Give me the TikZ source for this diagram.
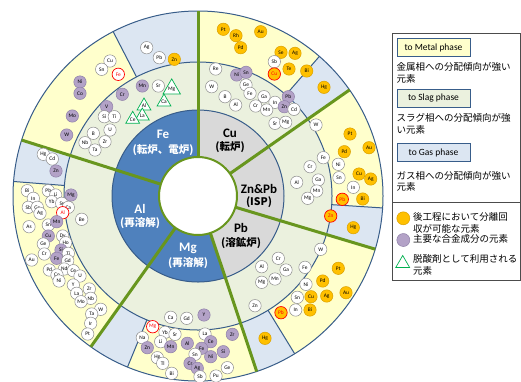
\documentclass[tikz,border=0pt]{standalone}
\usepackage{fontspec}
\setmainfont{Carlito}
\newfontfamily\jp{Noto Sans CJK JP}
\usetikzlibrary{shapes.geometric,calc}
\definecolor{blu}{HTML}{4F81BD}
\definecolor{gry}{HTML}{D9D9D9}
\definecolor{slag}{HTML}{EBF1DE}
\definecolor{metal}{HTML}{FFFFCC}
\definecolor{gas}{HTML}{DCE6F2}
\definecolor{ring}{HTML}{385D8A}
\definecolor{sep}{RGB}{104,150,30}
\definecolor{orng}{HTML}{FFC000}
\definecolor{orngd}{HTML}{D9A000}
\definecolor{purp}{HTML}{B3A2C7}
\definecolor{purpd}{HTML}{8F80A8}
\definecolor{triG}{HTML}{00B050}
\begin{document}
\begin{tikzpicture}[x=1pt,y=-1pt,
  el/.style={circle,draw=black!45,fill=white,line width=0.5pt,minimum size=12.4pt,inner sep=0pt,font=\fontsize{5.4}{5.4}\selectfont},
  pu/.style={el,fill=purp,draw=purpd},
  og/.style={el,fill=orng,draw=orngd},
  rw/.style={el,draw=red,text=red,line width=0.7pt},
  ro/.style={el,fill=orng,draw=red,text=red,line width=0.7pt},
  tri/.style={regular polygon,regular polygon sides=3,draw=triG,fill=white,minimum size=16pt,inner sep=0pt,line width=0.7pt,font=\fontsize{5.4}{5.4}\selectfont},
  rl/.style={font=\bfseries\fontsize{13}{13}\selectfont,inner sep=0pt},
  rj/.style={font=\jp\bfseries\fontsize{10.5}{11}\selectfont,inner sep=0pt},
  lgbox/.style={draw=ring,line width=0.8pt,minimum width=73pt,minimum height=18.5pt,inner sep=0pt,font=\fontsize{9.5}{10}\selectfont},
  lgtxt/.style={anchor=north west,align=left,inner sep=0pt,font=\jp\fontsize{9.5}{11.5}\selectfont}]
\useasboundingbox (0,0) rectangle (521,381);
\fill[white] (0,0) rectangle (521,381);
\coordinate (C) at (198,196);
% outer ring (metal) and gas wedges
\fill[metal] (C) circle (185);
\foreach \a/\b in {242.7/270,311/325,3.7/16.7,58.5/71.5,112.4/125.4,184.5/197.6}
  \fill[gas] (C) -- ($(C)+(\a:185)$) arc[start angle=\a,end angle=\b,radius=185] -- cycle;
% slag ring
\fill[slag] (C) circle (134);
% process ring
\fill[gry] (C) circle (86);
\fill[blu] (C) -- ($(C)+(71.5:86)$) arc[start angle=71.5,end angle=270,radius=86] -- cycle;
% ring outlines
\draw[ring,line width=1pt] (C) circle (86) (C) circle (134) (C) circle (185);
\foreach \a in {242.7,311,3.7,58.5,112.4,184.5}
  \draw[ring,line width=1pt] ($(C)+(\a:134)$) -- ($(C)+(\a:185)$);
% green separators
\foreach \a in {-90,-35,16.7,71.5,125.4,197.6}
  \draw[sep,line width=3pt] ($(C)+(\a:39)$) -- ($(C)+(\a:185)$);
\draw[sep,line width=2pt,fill=white] (C) circle (39);
% process labels
\node[rl,text=white] (lfe) at (163,134) {Fe};
\node[rj,text=white] (lfe2) at (163,150) {(転炉、電炉)};
\node[rl] (lcu) at (230,133) {Cu};
\node[rj] (lcu2) at (230,147) {(転炉)};
\node[rl] (lzn) at (259,189) {Zn\&Pb};
\node[rj] (lzn2) at (259,202) {(ISP)};
\node[rl] (lpb) at (241,228) {Pb};
\node[rj] (lpb2) at (241,243) {(溶鉱炉)};
\node[rl,text=white] (lal) at (140,209) {Al};
\node[rj,text=white] (lal2) at (140,223) {(再溶解)};
\node[rl,text=white] (lmg) at (188,248) {Mg};
\node[rj,text=white] (lmg2) at (188,263) {(再溶解)};
% Fe sector
\foreach \s/\x/\y/\t [count=\i] in {el/146.7/47.7/Ag,el/159.3/57.7/Pb,og/174.3/59.3/Zn,
  el/110/61/Cu,el/101.7/69.3/Sn,rw/118.3/74.3/Fe,pu/80/82/Ni,pu/80/93.3/Co,pu/72.3/116/Mo,pu/66.7/135/W,
  pu/142.3/86/Mn,el/158.3/86/Sr,tri/171.7/89/Mg,pu/122.3/94.3/Cr,tri/164/102/Ca,tri/144/106/Al,
  pu/106.7/106.7/V,el/104.3/116.7/Si,el/114.3/116.7/Ti,tri/142.3/116/La,tri/132.7/119.3/Ce,
  el/110/130/U,el/93.3/133.3/B,el/105/141.7/Zr,el/85/142.7/Nb,el/95/150/Ta}
  \node[\s] (fe\i) at (\x,\y) {\t};
% Cu sector
\foreach \s/\x/\y/\t [count=\i] in {og/223.3/29.3/Pt,og/236/35.7/Rh,og/260.7/31.7/Au,og/240.7/47.7/Pd,
  og/281/52.3/Se,og/295/53.3/Ag,el/274.3/61.7/Sb,og/289/69/Te,og/306.7/71/Bi,ro/274.3/74/Cu,og/324/87.3/Hg,
  el/215.7/69/Re,pu/236.7/75/Ni,pu/246/72.3/Sn,el/211.7/86.7/W,el/246/85/Ge,el/250/93.3/Fe,el/225/96.7/B,
  el/264/96.7/Ga,el/235.7/105/Al,el/255.7/106/Cr,el/275/102.3/In,el/266.7/110/Mn,pu/288.3/96.7/Pb,
  pu/284.3/106.7/Zn,el/294/109.3/Cd,el/275/123.3/Sr,el/285.7/122.3/Mg}
  \node[\s] (cu\i) at (\x,\y) {\t};
% Zn&Pb sector
\foreach \s/\x/\y/\t [count=\i] in {el/316/125/W,el/323.3/157.7/Fe,el/310/166.7/Cr,el/318.3/180/Ga,
  el/296.7/182.3/Al,el/316.7/191/Mn,el/307.7/198.3/Mg,
  og/350/134/Pt,og/369/147.7/Au,og/344.3/151.7/Pd,el/338.3/164.3/Ni,og/359/174/Cu,og/370.7/179/Ag,
  el/339/177.7/Sn,el/353.3/187.3/In,ro/342.3/199.3/Pb,og/362.7/199/Bi,ro/330.7/216/Zn,og/353.3/227.7/Hg}
  \node[\s] (zp\i) at (\x,\y) {\t};
% Pb sector
\foreach \s/\x/\y/\t [count=\i] in {el/320.7/249.3/W,el/278.3/258.3/Cr,el/261.7/266.7/Al,el/286/270/Ga,
  el/305/267.3/Fe,el/275/279/Mn,el/261.7/282.3/Mg,el/255/305.7/Zn,
  og/338.3/268.3/Pt,og/322.7/281/Pd,el/306/284.3/Ni,og/346/292.7/Au,el/297.3/297.3/Sn,og/311/296.7/Cu,
  og/326.7/296/Ag,el/295.7/310/In,ro/281/312.7/Pb,og/310/310/Bi,og/265/338.3/Hg}
  \node[\s] (pb\i) at (\x,\y) {\t};
% Mg sector
\foreach \s/\x/\y/\t [count=\i] in {el/170.7/317.3/Ca,el/186.7/318.3/Gd,pu/204/315/Y,
  rw/152.7/326.7/Mg,el/165/332.3/Yb,el/175/334.3/Sr,el/205/334/La,pu/232.3/334.3/Zr,el/142.3/337.7/Na,
  el/160.7/341.7/Li,pu/170.7/346.7/Mn,pu/187.3/343.3/Al,pu/210.7/341.7/Ce,pu/201.7/348.3/Fe,
  pu/223.3/351.7/Si,pu/147.3/347.7/Zn,el/195/354.3/Sn,pu/210.7/356.7/Ni,el/157.3/357.7/Hg,
  el/162.7/363.3/Tl,pu/190/363.3/Cr,pu/197.3/368.3/Ag,el/227.3/367.7/Ge,el/171.7/373.3/Bi,
  el/200/376.7/Sb,el/216/376/Pu}
  \node[\s] (mg\i) at (\x,\y) {\t};
% Al sector
\foreach \s/\x/\y/\t [count=\i] in {el/43.3/154.3/Hg,el/52.3/159/Cd,pu/56/171/Zn,
  el/27.3/190.7/Bi,el/48.3/190.7/Pb,el/55.7/195/Li,pu/71/195/Mg,el/33.3/198.3/In,el/51.7/201.7/Yb,
  el/61.7/203.3/Sr,el/68.3/207.3/Ca,el/28.3/207.3/Sb,el/37.3/207.3/Ga,el/40/213.3/Ag,rw/62.7/212.7/Al,
  el/81.7/219.3/Be,el/29/226.7/As,el/48.3/225/Sn,pu/56.7/221.7/Mn,el/62.7/236/Dy,pu/48.3/236/Cu,
  el/43.3/244/Ge,el/65.7/242.7/Ho,pu/61/250/Si,el/44.3/254/Cr,el/68.3/253.3/Ti,pu/56.7/258.3/Fe,
  el/67.7/260.7/Gd,el/31.7/260/Au,el/49.3/270/Pd,el/64.3/269/Nd,el/73.3/270.7/Ce,el/57/275/Co,
  el/80/276/U,el/59/281/Ni,el/73.3/285/Y,el/89.3/289/Zr,el/76.7/293.3/La,el/90.7/298.3/Nb,
  el/81/301.7/Mo,el/100.7/309.3/W,el/91.7/314/Ta,el/90.7/323.3/Ir,el/87.7/334/Pt}
  \node[\s] (al\i) at (\x,\y) {\t};
% legend
\draw[black!70,line width=1pt] (392,33) rectangle (520.3,280);
\draw[black!70,line width=1pt] (392,202) -- (520.3,202);
\node[lgbox,fill=metal] (lg1) at (433.5,47.5) {to Metal phase};
\node[lgtxt] (lt1) at (396.5,62.5) {金属相への分配傾向が強い\\元素};
\node[lgbox,fill=slag] (lg2) at (433.5,98.5) {to Slag phase};
\node[lgtxt] (lt2) at (396.5,113.5) {スラグ相への分配傾向が強\\い元素};
\node[lgbox,fill=gas] (lg3) at (433.5,152.5) {to Gas phase};
\node[lgtxt] (lt3) at (396.5,171) {ガス相への分配傾向が強い\\元素};
\node[circle,fill=orng,draw=orngd,line width=0.5pt,minimum size=13pt,inner sep=0pt] (k1) at (403.3,218.3) {};
\node[lgtxt] (kt1) at (413,212.5) {後工程において分離回\\収が可能な元素};
\node[circle,fill=purp,draw=purpd,line width=0.5pt,minimum size=13pt,inner sep=0pt] (k2) at (403.3,240) {};
\node[lgtxt] (kt2) at (413,234.5) {主要な合金成分の元素};
\node[regular polygon,regular polygon sides=3,draw=triG,line width=0.7pt,minimum size=16pt,inner sep=0pt] (k3) at (402.7,263.5) {};
\node[lgtxt] (kt3) at (413,254.5) {脱酸剤として利用される\\元素};
\end{tikzpicture}
\end{document}
